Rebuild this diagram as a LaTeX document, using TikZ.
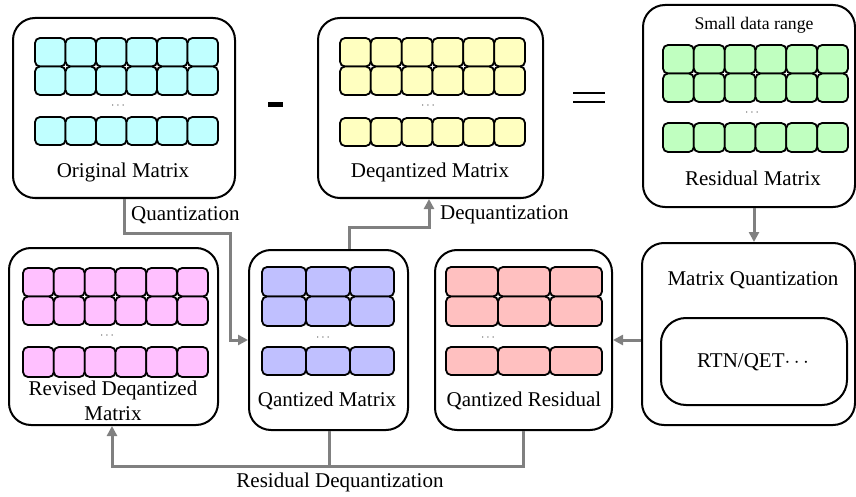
\documentclass[tikz,border=0pt]{standalone}
\usepackage{fontspec}
\setmainfont{Liberation Serif}
\usetikzlibrary{arrows.meta}
\definecolor{cyanc}{RGB}{192,255,255}
\definecolor{yellowc}{RGB}{255,255,192}
\definecolor{greenc}{RGB}{192,255,192}
\definecolor{pinkc}{RGB}{255,192,255}
\definecolor{bluec}{RGB}{192,192,255}
\definecolor{redc}{RGB}{255,192,192}
\definecolor{arrgray}{RGB}{128,128,128}
\newcommand\mrow[6]{%
  \foreach \i in {1,...,#3} {%
    \draw[cellst,fill=#4] ({#1+(\i-1)*(#2-#1)/#3},#5) rectangle ({#1+\i*(#2-#1)/#3},#6);
  }%
}
\tikzset{
  bigbox/.style={draw, line width=2pt, rounded corners=22pt, inner sep=0pt},
  cellst/.style={draw, line width=1.8pt, rounded corners=5pt},
  lbl/.style={font=\fontsize{21}{25}\selectfont, inner sep=0pt, align=center},
  small/.style={font=\fontsize{17.7}{20}\selectfont, inner sep=0pt},
  dotsl/.style={font=\fontsize{12}{12}\selectfont, inner sep=0pt, text=black!70},
  conn/.style={draw=arrgray, line width=3pt},
  arr/.style={conn, -{Triangle[length=10pt,width=10pt]}},
}
\begin{document}
\begin{tikzpicture}[x=1pt,y=-1pt]
\useasboundingbox (0,0) rectangle (856,497);
% big boxes
\node[bigbox, minimum width=222pt, minimum height=180pt] (orig) at (124,108) {};
\node[bigbox, minimum width=225pt, minimum height=180pt] (deq) at (430.5,108) {};
\node[bigbox, minimum width=212pt, minimum height=202pt] (res) at (749,106) {};
\node[bigbox, minimum width=209pt, minimum height=177pt] (rev) at (113.5,336.5) {};
\node[bigbox, minimum width=159pt, minimum height=180pt] (qm) at (328.5,340) {};
\node[bigbox, minimum width=177pt, minimum height=180pt] (qr) at (523.5,340) {};
\node[bigbox, minimum width=213pt, minimum height=182pt] (mq) at (748.5,334) {};
\node[bigbox, rounded corners=25pt, minimum width=186pt, minimum height=87pt] (inner) at (754,361.5) {};
% cells
\mrow{35}{218}{6}{cyanc}{38}{66.5}
\mrow{35}{218}{6}{cyanc}{66.5}{95}
\mrow{35}{218}{6}{cyanc}{117}{145}
\mrow{340}{525}{6}{yellowc}{38}{66.5}
\mrow{340}{525}{6}{yellowc}{66.5}{95}
\mrow{340}{525}{6}{yellowc}{118}{146}
\mrow{663}{848}{6}{greenc}{45}{73.5}
\mrow{663}{848}{6}{greenc}{73.5}{102}
\mrow{663}{848}{6}{greenc}{123}{152}
\mrow{23}{208}{6}{pinkc}{268}{296.5}
\mrow{23}{208}{6}{pinkc}{296.5}{325}
\mrow{23}{208}{6}{pinkc}{347}{377}
\mrow{262}{394}{3}{bluec}{267}{296.5}
\mrow{262}{394}{3}{bluec}{296.5}{326}
\mrow{262}{394}{3}{bluec}{347}{375}
\mrow{446}{602}{3}{redc}{267}{296.5}
\mrow{446}{602}{3}{redc}{296.5}{326}
\mrow{446}{602}{3}{redc}{347}{375}
% dots
\node[dotsl] (d1) at (118,106) {$\cdots$};
\node[dotsl] (d2) at (428,106) {$\cdots$};
\node[dotsl] (d3) at (752,113) {$\cdots$};
\node[dotsl] (d4) at (107,336) {$\cdots$};
\node[dotsl] (d5) at (323,338) {$\cdots$};
\node[dotsl] (d6) at (488,338) {$\cdots$};
% labels
\node[lbl] (lorig) at (123,172) {Original Matrix};
\node[lbl] (ldeq) at (430,172) {Deqantized Matrix};
\node[small] (lsmall) at (754,25) {Small data range};
\node[lbl] (lres) at (753,178) {Residual Matrix};
\node[lbl] (lmq) at (753,280) {Matrix Quantization};
\node[lbl] (lrtn) at (753,362) {RTN/QET$\cdots$};
\node[lbl] (lrev) at (113,400.5) {Revised Deqantized\\Matrix};
\node[lbl] (lqm) at (327,401) {Qantized Matrix};
\node[lbl] (lqr) at (524,401) {Qantized Residual};
% operators
\fill (268,102) rectangle (283,107);
\draw[line width=2pt] (573,93) -- (605,93) (573,102) -- (605,102);
% connectors
\coordinate (q1) at (124,233);
\coordinate (q2) at (230,233);
\draw[arr] (orig.south -| q1) -- (q1) -- (q2) |- (qm.west);
\node[lbl, anchor=west] (lq) at (131,215) {Quantization};
\coordinate (dq1) at (349,227);
\coordinate (dq2) at (429,227);
\draw[arr] (qm.north -| dq1) -- (dq1) -- (dq2) -- (deq.south -| dq2);
\node[lbl, anchor=west] (ldq) at (440,215) {Dequantization};
\coordinate (rm) at (754,0);
\draw[arr] (res.south -| rm) -- (mq.north -| rm);
\draw[arr] (mq.west |- qr.east) -- (qr.east);
\coordinate (r0) at (112,466);
\coordinate (r1) at (329,466);
\coordinate (r2) at (523,466);
\draw[conn] (qm.south -| r1) -- (r1);
\draw[arr] (qr.south -| r2) |- (r0) -- (rev.south -| r0);
\node[lbl] (lrd) at (340,482) {Residual Dequantization};
\end{tikzpicture}
\end{document}
